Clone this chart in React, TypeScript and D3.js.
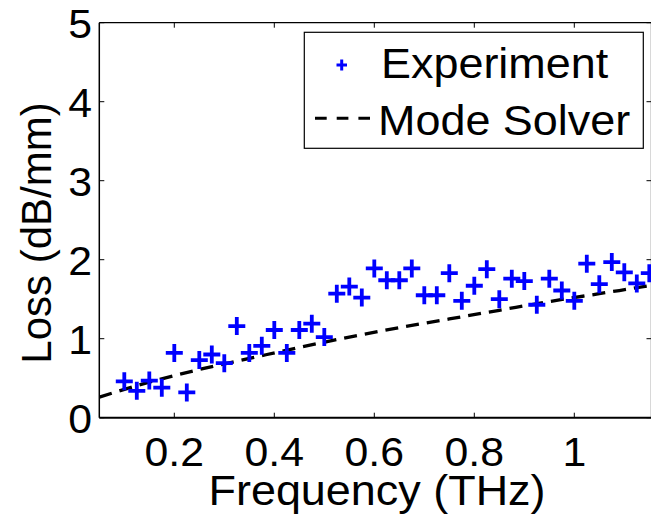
import React from "react";
import * as d3 from "d3";

const freqTHz = [
  0.1, 0.125, 0.15, 0.175, 0.2, 0.225, 0.25, 0.275, 0.3, 0.325, 0.35, 0.375,
  0.4, 0.425, 0.45, 0.475, 0.5, 0.525, 0.55, 0.575, 0.6, 0.625, 0.65, 0.675,
  0.7, 0.725, 0.75, 0.775, 0.8, 0.825, 0.85, 0.875, 0.9, 0.925, 0.95, 0.975,
  1.0, 1.025, 1.05, 1.075, 1.1, 1.125, 1.15,
];
const lossExperiment = [
  0.46, 0.34, 0.47, 0.38, 0.82, 0.32, 0.73, 0.8, 0.69, 1.16, 0.82, 0.91,
  1.11, 0.82, 1.11, 1.19, 1.02, 1.57, 1.66, 1.52, 1.89, 1.74, 1.74, 1.89,
  1.55, 1.55, 1.83, 1.48, 1.67, 1.88, 1.5, 1.76, 1.73, 1.43, 1.76, 1.61,
  1.48, 1.95, 1.69, 1.97, 1.84, 1.7, 1.83,
];
const solverFreq = [0.05, 0.15, 0.25, 0.35, 0.45, 0.55, 0.65, 0.75, 0.85, 0.95, 1.05, 1.15];
const solverLoss = [0.26, 0.45, 0.61, 0.75, 0.89, 1.02, 1.14, 1.25, 1.36, 1.47, 1.57, 1.67];
const xTicks = [0.2, 0.4, 0.6, 0.8, 1];
const yTicks = [0, 1, 2, 3, 4, 5];
const seriesNames = ["Experiment", "Mode Solver"];
const xLabel = "Frequency (THz)";
const yLabel = "Loss (dB/mm)";

const W = 651;
const H = 522;
const L = 99.3;
const R = 651.5;
const T = 22.7;
const B = 417.7;
const FONT = "'Liberation Sans', Arial, Helvetica, sans-serif";
const FS = 42;
const TFS = 40;
const SX = 1.07;

export default function App() {
  const x = d3.scaleLinear().domain([0.05, 0.05 + (R - L) / 500]).range([L, R]);
  const y = d3.scaleLinear().domain([0, 5]).range([B, T]);
  const line = d3
    .line<number>()
    .x((_, i) => x(solverFreq[i]))
    .y((d) => y(d))
    .curve(d3.curveMonotoneX);

  const fmt = (v: number) => String(v);

  return (
    <svg
      width={W}
      height={H}
      style={{ position: "fixed", left: 0, top: 0, background: "#fff" }}
      fontFamily={FONT}
    >
      <rect x={0} y={0} width={W} height={H} fill="#fff" />
      <defs>
        <clipPath id="plot">
          <rect x={L} y={T} width={R - L} height={B - T} />
        </clipPath>
      </defs>
      {xTicks.map((t) => (
        <g key={"xt" + t}>
          <line x1={x(t)} x2={x(t)} y1={B} y2={B - 5} stroke="#000" strokeWidth={1} />
          <line x1={x(t)} x2={x(t)} y1={T} y2={T + 5} stroke="#000" strokeWidth={1} />
          <text
            transform={`translate(${x(t)},466) scale(${SX},1)`}
            textAnchor="middle"
            fontSize={TFS}
            fill="#000"
          >
            {fmt(t)}
          </text>
        </g>
      ))}
      {yTicks.map((t) => (
        <g key={"yt" + t}>
          <line x1={L} x2={L + 5} y1={y(t)} y2={y(t)} stroke="#000" strokeWidth={1} />
          <line x1={R - 5} x2={R} y1={y(t)} y2={y(t)} stroke="#000" strokeWidth={1} />
          <text
            transform={`translate(92,${y(t) + 15}) scale(${SX},1)`}
            textAnchor="end"
            fontSize={TFS}
            fill="#000"
          >
            {t}
          </text>
        </g>
      ))}
      <line x1={L} x2={R} y1={T} y2={T} stroke="#000" strokeWidth={1.3} />
      <line x1={L} x2={R} y1={B} y2={B} stroke="#000" strokeWidth={2} />
      <line x1={L} x2={L} y1={T} y2={B} stroke="#000" strokeWidth={1.5} />
      <line x1={R} x2={R} y1={T} y2={B} stroke="#000" strokeWidth={1.3} />

      <g clipPath="url(#plot)">
        <path
          d={line(solverLoss) || ""}
          fill="none"
          stroke="#000"
          strokeWidth={3.3}
          strokeDasharray="13,8"
        />
        {freqTHz.map((f, i) => {
          const cx = x(f);
          const cy = y(lossExperiment[i]);
          return (
            <g key={"p" + i} stroke="#0000ff" strokeWidth={3.8}>
              <line x1={cx - 8.5} x2={cx + 8.5} y1={cy} y2={cy} />
              <line x1={cx} x2={cx} y1={cy - 9} y2={cy + 9} />
            </g>
          );
        })}
      </g>

      <rect x={304.3} y={32.3} width={339} height={116} fill="#fff" stroke="#000" strokeWidth={1.2} />
      <g stroke="#0000ff" strokeWidth={3}>
        <line x1={336.5} x2={347} y1={65} y2={65} />
        <line x1={341.7} x2={341.7} y1={59.5} y2={70.5} />
      </g>
      <text transform={`translate(381,78) scale(${SX},1)`} fontSize={FS} fill="#000">
        {seriesNames[0]}
      </text>
      <line x1={315} x2={370} y1={118.3} y2={118.3} stroke="#000" strokeWidth={3} strokeDasharray="11.7,10" />
      <text transform={`translate(378,135) scale(${SX},1)`} fontSize={FS} fill="#000">
        {seriesNames[1]}
      </text>

      <text
        transform={`translate(377,505) scale(${SX},1)`}
        textAnchor="middle"
        fontSize={FS}
        fill="#000"
      >
        {xLabel}
      </text>
      <text
        transform={`translate(51,233) rotate(-90)`}
        textAnchor="middle"
        fontSize={FS}
        fill="#000"
      >
        {yLabel}
      </text>
    </svg>
  );
}
